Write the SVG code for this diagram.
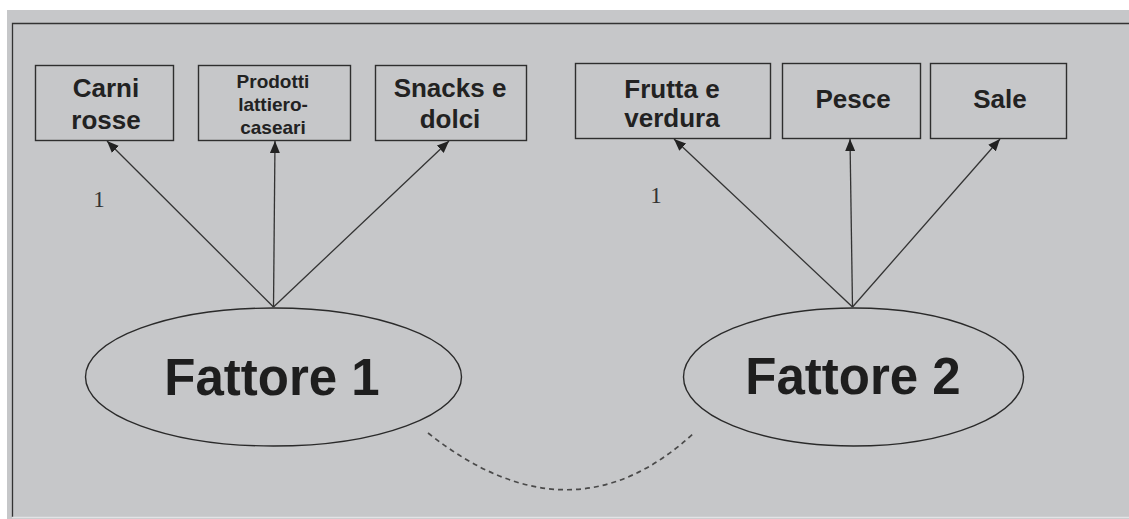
<svg xmlns="http://www.w3.org/2000/svg" width="1129" height="519" viewBox="0 0 1129 519">
  <style>
    .box { fill: none; stroke: #2e2e2e; stroke-width: 1.4; }
    .ell { fill: none; stroke: #2a2a2a; stroke-width: 1.4; }
    .lbl { font-family: "Liberation Sans", Arial, sans-serif; font-weight: bold; font-size: 26px; fill: #222; text-anchor: middle; }
    .small { font-size: 19px; }
    .big { font-family: "Liberation Sans", Arial, sans-serif; font-weight: bold; font-size: 51px; fill: #1e1e1e; text-anchor: middle; }
    .coef { font-family: "Liberation Serif", "Times New Roman", serif; font-size: 23px; fill: #333; text-anchor: middle; }
    .edge { stroke: #333; stroke-width: 1.3; fill: none; marker-end: url(#arrow); }
    .corr { stroke: #4a4a4a; stroke-width: 1.7; fill: none; stroke-dasharray: 5 4; }
  </style>
  <defs>
    <marker id="arrow" markerWidth="12" markerHeight="10" refX="12" refY="5" orient="auto" markerUnits="userSpaceOnUse">
      <path d="M0,0 L12,5 L0,10 Z" fill="#222"/>
    </marker>
  </defs>

  <!-- page and frame -->
  <rect x="0" y="0" width="1129" height="519" fill="#ffffff"/>
  <rect x="7" y="10" width="1122" height="509" fill="#c6c7c9"/>
  <path d="M1129,23.5 H12.5 V517" stroke="#333" stroke-width="1.3" fill="none"/>
  <line x1="12" y1="517.5" x2="1129" y2="517.5" stroke="#e2e3e5" stroke-width="1.5"/>

  <!-- factor 1 indicators -->
  <g id="carni-rosse">
    <rect class="box" x="35.5" y="65.5" width="138" height="75"/>
    <text class="lbl" x="106" y="97">Carni</text>
    <text class="lbl" x="106" y="129">rosse</text>
  </g>
  <g id="prodotti-lattiero-caseari">
    <rect class="box" x="198.5" y="65.5" width="152" height="75"/>
    <text class="lbl small" x="273" y="88">Prodotti</text>
    <text class="lbl small" x="273" y="111">lattiero-</text>
    <text class="lbl small" x="273" y="134">caseari</text>
  </g>
  <g id="snacks-dolci">
    <rect class="box" x="375.5" y="65.5" width="151" height="75"/>
    <text class="lbl" x="450" y="97">Snacks e</text>
    <text class="lbl" x="450" y="128">dolci</text>
  </g>

  <!-- factor 2 indicators -->
  <g id="frutta-verdura">
    <rect class="box" x="575.5" y="63.5" width="195" height="75"/>
    <text class="lbl" x="672" y="98">Frutta e</text>
    <text class="lbl" x="672" y="127">verdura</text>
  </g>
  <g id="pesce">
    <rect class="box" x="782.5" y="63.5" width="138" height="75"/>
    <text class="lbl" x="853" y="108">Pesce</text>
  </g>
  <g id="sale">
    <rect class="box" x="930.5" y="63.5" width="136" height="75"/>
    <text class="lbl" x="1000" y="108">Sale</text>
  </g>

  <!-- latent factors -->
  <g id="fattore-1">
    <ellipse class="ell" cx="273.5" cy="377" rx="188" ry="69"/>
    <text class="big" x="272" y="395">Fattore 1</text>
  </g>
  <g id="fattore-2">
    <ellipse class="ell" cx="853.5" cy="377" rx="170" ry="69"/>
    <text class="big" x="853" y="394">Fattore 2</text>
  </g>

  <!-- loadings and factor covariance -->
  <g id="connectors">
    <line class="edge" x1="273.5" y1="307" x2="107" y2="141"/>
    <line class="edge" x1="273.5" y1="307" x2="275" y2="141"/>
    <line class="edge" x1="273.5" y1="307" x2="449" y2="141"/>
    <line class="edge" x1="852.5" y1="307" x2="674" y2="139"/>
    <line class="edge" x1="852.5" y1="307" x2="850" y2="139"/>
    <line class="edge" x1="852.5" y1="307" x2="1000" y2="139"/>
    <path class="corr" d="M428,433 Q572,547 695,432"/>
    <text class="coef" x="99" y="207">1</text>
    <text class="coef" x="656" y="203">1</text>
  </g>
</svg>
